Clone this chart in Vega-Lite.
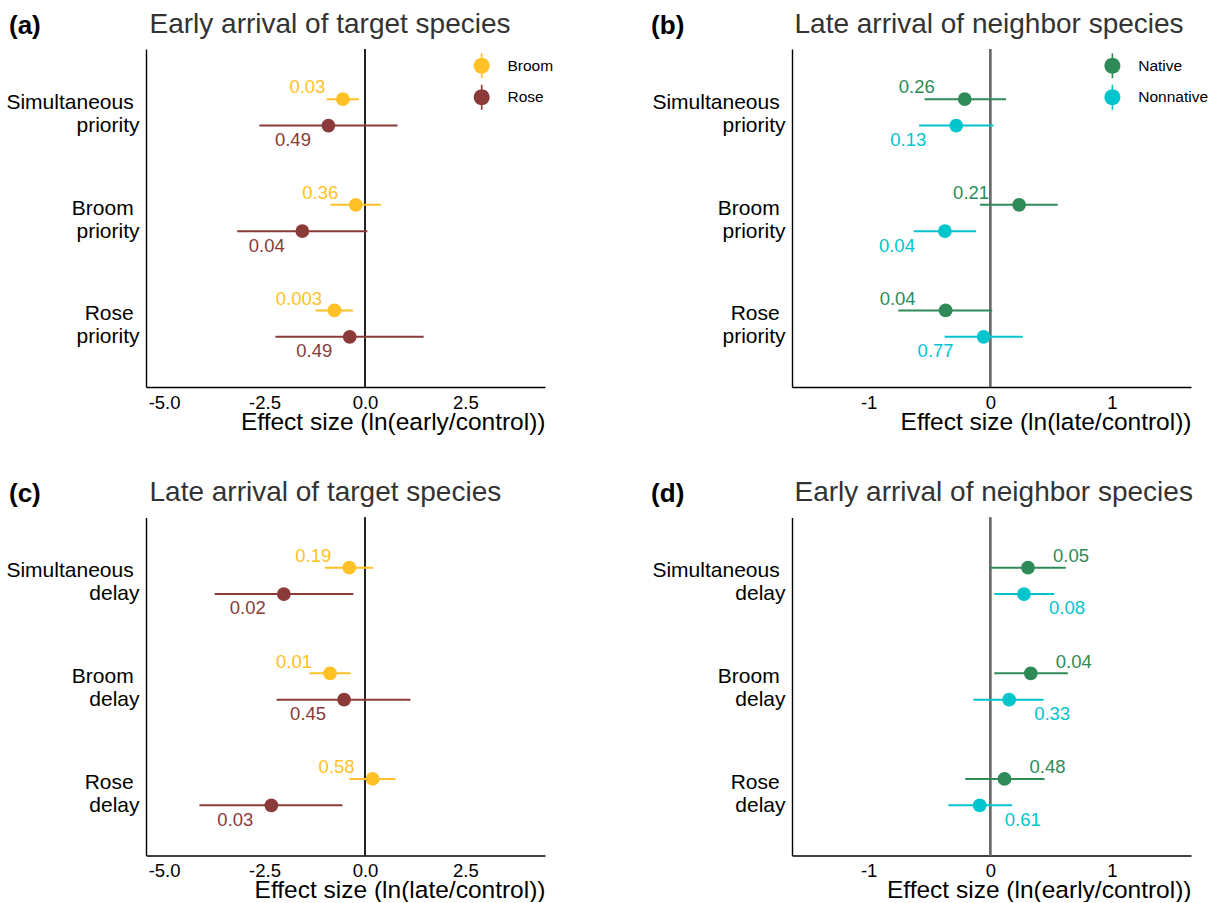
{
  "$schema": "https://vega.github.io/schema/vega-lite/v6.json",
  "padding": {"left": 5, "top": 10, "right": 0, "bottom": 0},
  "datasets": {
    "a": [
      {"cat": "Simultaneous priority", "species": "Broom", "est": -0.55, "lo": -0.955, "hi": -0.15, "p": "0.03"},
      {"cat": "Simultaneous priority", "species": "Rose", "est": -0.91, "lo": -2.63, "hi": 0.81, "p": "0.49"},
      {"cat": "Broom priority", "species": "Broom", "est": -0.23, "lo": -0.86, "hi": 0.40, "p": "0.36"},
      {"cat": "Broom priority", "species": "Rose", "est": -1.56, "lo": -3.18, "hi": 0.06, "p": "0.04"},
      {"cat": "Rose priority", "species": "Broom", "est": -0.76, "lo": -1.23, "hi": -0.30, "p": "0.003"},
      {"cat": "Rose priority", "species": "Rose", "est": -0.38, "lo": -2.23, "hi": 1.46, "p": "0.49"}
    ],
    "b": [
      {"cat": "Simultaneous priority", "species": "Native", "est": -0.21, "lo": -0.54, "hi": 0.13, "p": "0.26"},
      {"cat": "Simultaneous priority", "species": "Nonnative", "est": -0.28, "lo": -0.585, "hi": 0.027, "p": "0.13"},
      {"cat": "Broom priority", "species": "Native", "est": 0.237, "lo": -0.084, "hi": 0.555, "p": "0.21"},
      {"cat": "Broom priority", "species": "Nonnative", "est": -0.373, "lo": -0.629, "hi": -0.117, "p": "0.04"},
      {"cat": "Rose priority", "species": "Native", "est": -0.367, "lo": -0.757, "hi": 0.016, "p": "0.04"},
      {"cat": "Rose priority", "species": "Nonnative", "est": -0.055, "lo": -0.375, "hi": 0.267, "p": "0.77"}
    ],
    "c": [
      {"cat": "Simultaneous delay", "species": "Broom", "est": -0.39, "lo": -1.0, "hi": 0.20, "p": "0.19"},
      {"cat": "Simultaneous delay", "species": "Rose", "est": -2.02, "lo": -3.74, "hi": -0.29, "p": "0.02"},
      {"cat": "Broom delay", "species": "Broom", "est": -0.87, "lo": -1.38, "hi": -0.36, "p": "0.01"},
      {"cat": "Broom delay", "species": "Rose", "est": -0.52, "lo": -2.20, "hi": 1.13, "p": "0.45"},
      {"cat": "Rose delay", "species": "Broom", "est": 0.19, "lo": -0.39, "hi": 0.76, "p": "0.58"},
      {"cat": "Rose delay", "species": "Rose", "est": -2.33, "lo": -4.12, "hi": -0.56, "p": "0.03"}
    ],
    "d": [
      {"cat": "Simultaneous delay", "species": "Native", "est": 0.31, "lo": 0.0, "hi": 0.62, "p": "0.05"},
      {"cat": "Simultaneous delay", "species": "Nonnative", "est": 0.277, "lo": 0.033, "hi": 0.525, "p": "0.08"},
      {"cat": "Broom delay", "species": "Native", "est": 0.333, "lo": 0.033, "hi": 0.637, "p": "0.04"},
      {"cat": "Broom delay", "species": "Nonnative", "est": 0.155, "lo": -0.139, "hi": 0.438, "p": "0.33"},
      {"cat": "Rose delay", "species": "Native", "est": 0.117, "lo": -0.206, "hi": 0.446, "p": "0.48"},
      {"cat": "Rose delay", "species": "Nonnative", "est": -0.087, "lo": -0.345, "hi": 0.18, "p": "0.61"}
    ]
  },
  "columns": 2,
  "spacing": {"column": 96, "row": 44.5},
  "resolve": {"scale": {"x": "independent", "y": "independent", "color": "independent", "yOffset": "independent"}, "legend": {"color": "independent"}},
  "concat": [
    {
      "width": 399, "height": 338,
      "data": {"name": "a"},
      "resolve": {"axis": {"x": "independent"}},
      "layer": [
        {"mark": {"type": "rule", "color": "#222222", "strokeWidth": 1},
         "encoding": {"x": {"datum": 0, "type": "quantitative", "axis": {"orient": "top", "title": "Early arrival of target species", "labels": false, "domain": false, "titleX": 3, "titleY": -17, "titleAnchor": "start", "titleAlign": "left", "titleBaseline": "alphabetic", "titleFontSize": 28, "titleColor": "#333333"}}}},
        {"layer": [
          {"mark": {"type": "rule", "strokeWidth": 2},
           "encoding": {
             "y": {"field": "cat", "type": "nominal", "sort": ["Simultaneous priority", "Broom priority", "Rose priority"], "scale": {"type": "band", "paddingInner": 0, "paddingOuter": 0.1},
                   "axis": {"title": "(a)", "titleX": -137.5, "titleY": -16}},
             "yOffset": {"field": "species", "type": "nominal", "sort": ["Broom", "Rose"], "scale": {"paddingInner": 0, "paddingOuter": 1}},
             "x": {"field": "lo", "type": "quantitative", "scale": {"domain": [-5.45, 4.48], "nice": false, "zero": false}, "axis": {"orient": "bottom", "title": "Effect size (ln(early/control))", "values": [-5, -2.5, 0, 2.5], "format": ".1f"}},
             "x2": {"field": "hi"},
             "color": {"field": "species", "type": "nominal", "scale": {"domain": ["Broom", "Rose"], "range": ["#FFC125", "#8B3A3A"]}}
           }},
          {"mark": {"type": "point", "filled": true, "opacity": 1, "size": 190},
           "encoding": {
             "y": {"field": "cat", "type": "nominal", "sort": ["Simultaneous priority", "Broom priority", "Rose priority"]},
             "yOffset": {"field": "species", "type": "nominal", "sort": ["Broom", "Rose"]},
             "x": {"field": "est", "type": "quantitative"},
             "color": {"field": "species", "type": "nominal", "legend": {"orient": "none", "legendX": 327.7, "legendY": 8.7}}
           }},
          {"transform": [{"filter": "datum.species == 'Broom'"}],
           "mark": {"type": "text", "dx": -35.5, "dy": -5.7, "baseline": "alphabetic", "align": "center", "fontSize": 18.5},
           "encoding": {
             "y": {"field": "cat", "type": "nominal", "sort": ["Simultaneous priority", "Broom priority", "Rose priority"]},
             "yOffset": {"field": "species", "type": "nominal", "sort": ["Broom", "Rose"]},
             "x": {"field": "est", "type": "quantitative"},
             "text": {"field": "p"},
             "color": {"field": "species", "type": "nominal"}
           }},
          {"transform": [{"filter": "datum.species == 'Rose'"}],
           "mark": {"type": "text", "dx": -35.5, "dy": 20.3, "baseline": "alphabetic", "align": "center", "fontSize": 18.5},
           "encoding": {
             "y": {"field": "cat", "type": "nominal", "sort": ["Simultaneous priority", "Broom priority", "Rose priority"]},
             "yOffset": {"field": "species", "type": "nominal", "sort": ["Broom", "Rose"]},
             "x": {"field": "est", "type": "quantitative"},
             "text": {"field": "p"},
             "color": {"field": "species", "type": "nominal"}
           }}
        ]}
      ]
    },
    {
      "width": 399, "height": 338,
      "data": {"name": "b"},
      "resolve": {"axis": {"x": "independent"}},
      "layer": [
        {"mark": {"type": "rule", "color": "#6b6b6b", "strokeWidth": 1.8},
         "encoding": {"x": {"datum": 0, "type": "quantitative", "axis": {"orient": "top", "title": "Late arrival of neighbor species", "labels": false, "domain": false, "titleX": 2, "titleY": -17, "titleAnchor": "start", "titleAlign": "left", "titleBaseline": "alphabetic", "titleFontSize": 28, "titleColor": "#333333"}}}},
        {"layer": [
          {"mark": {"type": "rule", "strokeWidth": 2},
           "encoding": {
             "y": {"field": "cat", "type": "nominal", "sort": ["Simultaneous priority", "Broom priority", "Rose priority"], "scale": {"type": "band", "paddingInner": 0, "paddingOuter": 0.1},
                   "axis": {"title": "(b)", "titleX": -141.4, "titleY": -16}},
             "yOffset": {"field": "species", "type": "nominal", "sort": ["Native", "Nonnative"], "scale": {"paddingInner": 0, "paddingOuter": 1}},
             "x": {"field": "lo", "type": "quantitative", "scale": {"domain": [-1.63, 1.65], "nice": false, "zero": false}, "axis": {"orient": "bottom", "title": "Effect size (ln(late/control))", "values": [-1, 0, 1], "format": "d"}},
             "x2": {"field": "hi"},
             "color": {"field": "species", "type": "nominal", "scale": {"domain": ["Native", "Nonnative"], "range": ["#2E8B57", "#00C5CD"]}}
           }},
          {"mark": {"type": "point", "filled": true, "opacity": 1, "size": 190},
           "encoding": {
             "y": {"field": "cat", "type": "nominal", "sort": ["Simultaneous priority", "Broom priority", "Rose priority"]},
             "yOffset": {"field": "species", "type": "nominal", "sort": ["Native", "Nonnative"]},
             "x": {"field": "est", "type": "quantitative"},
             "color": {"field": "species", "type": "nominal", "legend": {"orient": "none", "legendX": 312.4, "legendY": 8.7}}
           }},
          {"transform": [{"filter": "datum.species == 'Native'"}],
           "mark": {"type": "text", "dx": -48, "dy": -5.7, "baseline": "alphabetic", "align": "center", "fontSize": 18.5},
           "encoding": {
             "y": {"field": "cat", "type": "nominal", "sort": ["Simultaneous priority", "Broom priority", "Rose priority"]},
             "yOffset": {"field": "species", "type": "nominal", "sort": ["Native", "Nonnative"]},
             "x": {"field": "est", "type": "quantitative"},
             "text": {"field": "p"},
             "color": {"field": "species", "type": "nominal"}
           }},
          {"transform": [{"filter": "datum.species == 'Nonnative'"}],
           "mark": {"type": "text", "dx": -48, "dy": 20.3, "baseline": "alphabetic", "align": "center", "fontSize": 18.5},
           "encoding": {
             "y": {"field": "cat", "type": "nominal", "sort": ["Simultaneous priority", "Broom priority", "Rose priority"]},
             "yOffset": {"field": "species", "type": "nominal", "sort": ["Native", "Nonnative"]},
             "x": {"field": "est", "type": "quantitative"},
             "text": {"field": "p"},
             "color": {"field": "species", "type": "nominal"}
           }}
        ]}
      ]
    },
    {
      "width": 399, "height": 338,
      "data": {"name": "c"},
      "resolve": {"axis": {"x": "independent"}},
      "layer": [
        {"mark": {"type": "rule", "color": "#222222", "strokeWidth": 1},
         "encoding": {"x": {"datum": 0, "type": "quantitative", "axis": {"orient": "top", "title": "Late arrival of target species", "labels": false, "domain": false, "titleX": 3, "titleY": -17, "titleAnchor": "start", "titleAlign": "left", "titleBaseline": "alphabetic", "titleFontSize": 28, "titleColor": "#333333"}}}},
        {"layer": [
          {"mark": {"type": "rule", "strokeWidth": 2},
           "encoding": {
             "y": {"field": "cat", "type": "nominal", "sort": ["Simultaneous delay", "Broom delay", "Rose delay"], "scale": {"type": "band", "paddingInner": 0, "paddingOuter": 0.1},
                   "axis": {"title": "(c)", "titleX": -137.5, "titleY": -16}},
             "yOffset": {"field": "species", "type": "nominal", "sort": ["Broom", "Rose"], "scale": {"paddingInner": 0, "paddingOuter": 1}},
             "x": {"field": "lo", "type": "quantitative", "scale": {"domain": [-5.45, 4.48], "nice": false, "zero": false}, "axis": {"orient": "bottom", "title": "Effect size (ln(late/control))", "values": [-5, -2.5, 0, 2.5], "format": ".1f"}},
             "x2": {"field": "hi"},
             "color": {"field": "species", "type": "nominal", "scale": {"domain": ["Broom", "Rose"], "range": ["#FFC125", "#8B3A3A"]}, "legend": null}
           }},
          {"mark": {"type": "point", "filled": true, "opacity": 1, "size": 190},
           "encoding": {
             "y": {"field": "cat", "type": "nominal", "sort": ["Simultaneous delay", "Broom delay", "Rose delay"]},
             "yOffset": {"field": "species", "type": "nominal", "sort": ["Broom", "Rose"]},
             "x": {"field": "est", "type": "quantitative"},
             "color": {"field": "species", "type": "nominal", "legend": null}
           }},
          {"transform": [{"filter": "datum.species == 'Broom'"}],
           "mark": {"type": "text", "dx": -36, "dy": -5.7, "baseline": "alphabetic", "align": "center", "fontSize": 18.5},
           "encoding": {
             "y": {"field": "cat", "type": "nominal", "sort": ["Simultaneous delay", "Broom delay", "Rose delay"]},
             "yOffset": {"field": "species", "type": "nominal", "sort": ["Broom", "Rose"]},
             "x": {"field": "est", "type": "quantitative"},
             "text": {"field": "p"},
             "color": {"field": "species", "type": "nominal", "legend": null}
           }},
          {"transform": [{"filter": "datum.species == 'Rose'"}],
           "mark": {"type": "text", "dx": -36, "dy": 20.3, "baseline": "alphabetic", "align": "center", "fontSize": 18.5},
           "encoding": {
             "y": {"field": "cat", "type": "nominal", "sort": ["Simultaneous delay", "Broom delay", "Rose delay"]},
             "yOffset": {"field": "species", "type": "nominal", "sort": ["Broom", "Rose"]},
             "x": {"field": "est", "type": "quantitative"},
             "text": {"field": "p"},
             "color": {"field": "species", "type": "nominal", "legend": null}
           }}
        ]}
      ]
    },
    {
      "width": 399, "height": 338,
      "data": {"name": "d"},
      "resolve": {"axis": {"x": "independent"}},
      "layer": [
        {"mark": {"type": "rule", "color": "#6b6b6b", "strokeWidth": 1.8},
         "encoding": {"x": {"datum": 0, "type": "quantitative", "axis": {"orient": "top", "title": "Early arrival of neighbor species", "labels": false, "domain": false, "titleX": 2, "titleY": -17, "titleAnchor": "start", "titleAlign": "left", "titleBaseline": "alphabetic", "titleFontSize": 28, "titleColor": "#333333"}}}},
        {"layer": [
          {"mark": {"type": "rule", "strokeWidth": 2},
           "encoding": {
             "y": {"field": "cat", "type": "nominal", "sort": ["Simultaneous delay", "Broom delay", "Rose delay"], "scale": {"type": "band", "paddingInner": 0, "paddingOuter": 0.1},
                   "axis": {"title": "(d)", "titleX": -141.4, "titleY": -16}},
             "yOffset": {"field": "species", "type": "nominal", "sort": ["Native", "Nonnative"], "scale": {"paddingInner": 0, "paddingOuter": 1}},
             "x": {"field": "lo", "type": "quantitative", "scale": {"domain": [-1.63, 1.65], "nice": false, "zero": false}, "axis": {"orient": "bottom", "title": "Effect size (ln(early/control))", "values": [-1, 0, 1], "format": "d"}},
             "x2": {"field": "hi"},
             "color": {"field": "species", "type": "nominal", "scale": {"domain": ["Native", "Nonnative"], "range": ["#2E8B57", "#00C5CD"]}, "legend": null}
           }},
          {"mark": {"type": "point", "filled": true, "opacity": 1, "size": 190},
           "encoding": {
             "y": {"field": "cat", "type": "nominal", "sort": ["Simultaneous delay", "Broom delay", "Rose delay"]},
             "yOffset": {"field": "species", "type": "nominal", "sort": ["Native", "Nonnative"]},
             "x": {"field": "est", "type": "quantitative"},
             "color": {"field": "species", "type": "nominal", "legend": null}
           }},
          {"transform": [{"filter": "datum.species == 'Native'"}],
           "mark": {"type": "text", "dx": 43, "dy": -5.7, "baseline": "alphabetic", "align": "center", "fontSize": 18.5},
           "encoding": {
             "y": {"field": "cat", "type": "nominal", "sort": ["Simultaneous delay", "Broom delay", "Rose delay"]},
             "yOffset": {"field": "species", "type": "nominal", "sort": ["Native", "Nonnative"]},
             "x": {"field": "est", "type": "quantitative"},
             "text": {"field": "p"},
             "color": {"field": "species", "type": "nominal", "legend": null}
           }},
          {"transform": [{"filter": "datum.species == 'Nonnative'"}],
           "mark": {"type": "text", "dx": 43, "dy": 20.3, "baseline": "alphabetic", "align": "center", "fontSize": 18.5},
           "encoding": {
             "y": {"field": "cat", "type": "nominal", "sort": ["Simultaneous delay", "Broom delay", "Rose delay"]},
             "yOffset": {"field": "species", "type": "nominal", "sort": ["Native", "Nonnative"]},
             "x": {"field": "est", "type": "quantitative"},
             "text": {"field": "p"},
             "color": {"field": "species", "type": "nominal", "legend": null}
           }}
        ]}
      ]
    }
  ],
  "config": {
    "font": "Liberation Sans",
    "view": {"stroke": null},
    "axis": {"grid": false, "ticks": false, "domainColor": "#000000", "domainWidth": 1.4, "labelColor": "#000000", "titleColor": "#000000", "labelFont": "Liberation Sans", "titleFont": "Liberation Sans", "titleFontWeight": "normal"},
    "axisX": {"labelFontSize": 18.5, "labelPadding": 6, "titleFontSize": 24.5, "titleAnchor": "end", "titlePadding": -1.5,
              "labelExpr": "replace(datum.label, '\u2212', '-')"},
    "axisY": {"labelFontSize": 21, "labelPadding": 7, "labelLineHeight": 23, "labelAlign": "right", "labelBaseline": "middle", "labelOffset": -9.5, "labelLimit": 0,
              "labelExpr": "[split(datum.label, ' ')[0] + '\u00a0\u200b', split(datum.label, ' ')[1]]",
              "titleAngle": 0, "titleAlign": "left", "titleBaseline": "alphabetic", "titleFontSize": 26, "titleFontWeight": "bold"},
    "legend": {"title": null, "padding": 0, "labelFontSize": 15.5, "labelColor": "#000000", "labelFont": "Liberation Sans", "labelOffset": 17.8, "rowPadding": 5.6, "symbolSize": 256, "symbolStrokeWidth": 0, "symbolOpacity": 1,
               "symbolType": "M-1,0A1,1 0 1,1 1,0A1,1 0 1,1 -1,0Z M-0.1,-1.56L0.1,-1.56L0.1,1.56L-0.1,1.56Z"}
  }
}
